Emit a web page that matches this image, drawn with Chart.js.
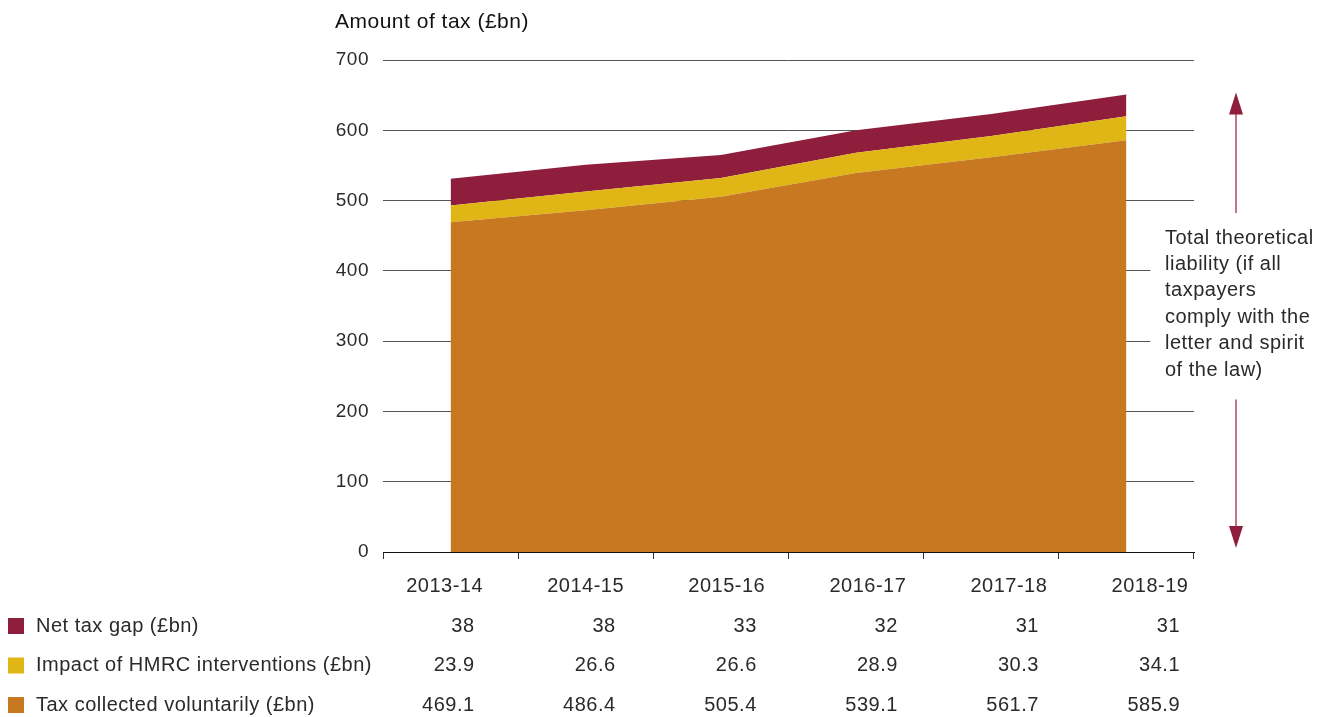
<!DOCTYPE html>
<html>
<head>
<meta charset="utf-8">
<script src="https://cdn.jsdelivr.net/npm/chart.js@4/dist/chart.umd.min.js"></script>
<style>
    html, body { margin: 0; padding: 0; background: #fff; }
    #wrap { width: 1325px; height: 717px; position: relative; }
</style>
</head>
<body>
<div id="wrap"><canvas id="graph"></canvas></div>
<script>
const years = ["2013-14", "2014-15", "2015-16", "2016-17", "2017-18", "2018-19"];
const taxGap = [38, 38, 33, 32, 31, 31];
const interventions = [23.9, 26.6, 26.6, 28.9, 30.3, 34.1];
const voluntary = [469.1, 486.4, 505.4, 539.1, 561.7, 585.9];
const yTicks = [0, 100, 200, 300, 400, 500, 600, 700];

const noteLines = ["Total theoretical", "liability (if all", "taxpayers", "comply with the", "letter and spirit", "of the law)"];

const colors = {gap: "#8f1d3c", hmrc: "#dfb616", voluntary: "#c77820"};
const font = "'Liberation Sans', Arial, sans-serif";
const textColor = "#2a2a2a";
const spacing = "0.5px";

// table rows under the chart, top to bottom
const rows = [
    {label: "Net tax gap (£bn)", values: taxGap, color: colors.gap},
    {label: "Impact of HMRC interventions (£bn)", values: interventions, color: colors.hmrc},
    {label: "Tax collected voluntarily (£bn)", values: voluntary, color: colors.voluntary}
];

const extras = {
    id: "extras",
    beforeDraw(chart) {
        chart.ctx.letterSpacing = spacing;
    },
    afterDraw(chart) {
        const {ctx, scales: {x, y}} = chart;
        ctx.save();
        ctx.letterSpacing = spacing;

        // axis title
        ctx.fillStyle = "#111";
        ctx.font = `21px ${font}`;
        ctx.textAlign = "left";
        ctx.textBaseline = "middle";
        ctx.fillText("Amount of tax (£bn)", 335, 22);

        // total liability arrow, from 0 to the latest total
        const last = years.length - 1;
        const total = voluntary[last] + interventions[last] + taxGap[last];
        const ax = x.right + 42;
        const yTop = y.getPixelForValue(total);
        const yBot = y.getPixelForValue(0);
        const noteTop = 238 - 13, lineH = 26.4;
        const noteBottom = noteTop + noteLines.length * lineH;

        // white box behind the note cuts the grid lines
        ctx.fillStyle = "#fff";
        ctx.fillRect(x.getPixelForValue(last) + 24, noteTop - 8, 200, noteBottom - noteTop + 14);

        ctx.strokeStyle = colors.gap;
        ctx.fillStyle = colors.gap;
        ctx.lineWidth = 1.2;
        ctx.beginPath();
        ctx.moveTo(ax, yTop + 10);
        ctx.lineTo(ax, noteTop - 12);
        ctx.moveTo(ax, noteBottom + 16);
        ctx.lineTo(ax, yBot - 10);
        ctx.stroke();
        ctx.beginPath();
        ctx.moveTo(ax, yTop - 2);
        ctx.lineTo(ax - 7, yTop + 20);
        ctx.lineTo(ax + 7, yTop + 20);
        ctx.closePath();
        ctx.fill();
        ctx.beginPath();
        ctx.moveTo(ax, yBot - 4);
        ctx.lineTo(ax - 7, yBot - 26);
        ctx.lineTo(ax + 7, yBot - 26);
        ctx.closePath();
        ctx.fill();

        ctx.fillStyle = textColor;
        ctx.font = `20px ${font}`;
        ctx.textAlign = "left";
        noteLines.forEach((line, i) => ctx.fillText(line, x.right - 29, noteTop + 13 + i * lineH));

        // years and table columns
        const first = x.getPixelForValue(0) + 24;
        const step = (x.right - 14 - first) / (years.length - 1);
        ctx.textAlign = "center";
        years.forEach((yr, i) => ctx.fillText(yr, first + i * step - 30, 586));

        rows.forEach((row, r) => {
            const ry = 626 + r * 39.5;
            ctx.fillStyle = row.color;
            ctx.fillRect(8, ry - 8, 16, 16);
            ctx.fillStyle = textColor;
            ctx.textAlign = "left";
            ctx.fillText(row.label, 36, ry);
            ctx.textAlign = "right";
            row.values.forEach((v, i) => ctx.fillText(String(v), first + i * step, ry));
        });
        ctx.restore();
    }
};

const canvas = document.querySelector("#graph");
new Chart(canvas, {
    type: "line",
    data: {
        labels: years,
        datasets: [
            {label: rows[2].label, data: voluntary, backgroundColor: colors.voluntary, fill: "origin"},
            {label: rows[1].label, data: interventions, backgroundColor: colors.hmrc, fill: "-1"},
            {label: rows[0].label, data: taxGap, backgroundColor: colors.gap, fill: "-1"}
        ].map(d => ({...d, borderWidth: 0, pointRadius: 0, tension: 0}))
    },
    options: {
        responsive: true,
        maintainAspectRatio: false,
        animation: false,
        events: [],
        layout: {padding: {top: 60, right: 131, left: 0, bottom: 0}},
        plugins: {legend: {display: false}, tooltip: {enabled: false}},
        scales: {
            x: {
                offset: true,
                grid: {offset: true, drawOnChartArea: false, tickLength: 7, color: "#333", lineWidth: 1},
                border: {color: "#111", width: 1},
                ticks: {display: false},
                afterFit: scale => { scale.height = 165; }
            },
            y: {
                stacked: true,
                min: 0,
                max: 700,
                afterBuildTicks: scale => { scale.ticks = yTicks.map(v => ({value: v})); },
                grid: {color: "#555", lineWidth: 1, drawTicks: false},
                border: {display: false},
                ticks: {color: textColor, padding: 14, font: {family: font, size: 19}},
                afterFit: scale => { scale.width = 383; }
            }
        }
    },
    plugins: [extras]
});
</script>
</body>
</html>
